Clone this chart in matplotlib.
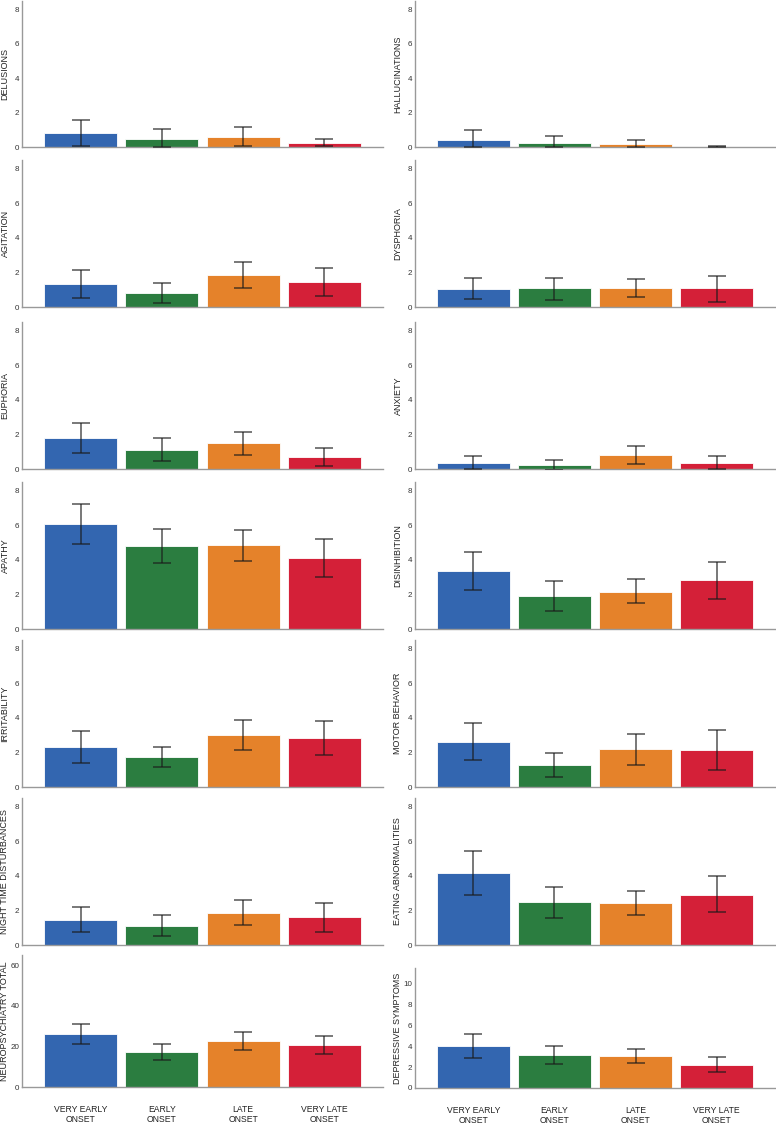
import matplotlib
matplotlib.use("Agg")
import matplotlib.pyplot as plt
import numpy as np

plt.rcParams['font.family'] = ['Liberation Sans', 'DejaVu Sans']

groups = ["VERY EARLY\nONSET", "EARLY\nONSET", "LATE\nONSET", "VERY LATE\nONSET"]
colors = ["#3366b0", "#2b7d40", "#e5822a", "#d42038"]

# (mean, upper CI, lower CI) per group
delusions_mean = [0.81, 0.47, 0.60, 0.23]
delusions_hi = [1.55, 1.05, 1.14, 0.48]
delusions_lo = [0.08, 0.0, 0.08, 0.04]

halluc_mean = [0.43, 0.23, 0.15, 0.02]
halluc_hi = [1.00, 0.66, 0.39, 0.05]
halluc_lo = [0.0, 0.0, 0.0, 0.0]

agitation_mean = [1.34, 0.81, 1.84, 1.45]
agitation_hi = [2.15, 1.40, 2.62, 2.27]
agitation_lo = [0.52, 0.21, 1.07, 0.64]

dysphoria_mean = [1.05, 1.07, 1.09, 1.07]
dysphoria_hi = [1.66, 1.70, 1.60, 1.81]
dysphoria_lo = [0.45, 0.43, 0.57, 0.31]

euphoria_mean = [1.77, 1.11, 1.48, 0.68]
euphoria_hi = [2.64, 1.79, 2.16, 1.24]
euphoria_lo = [0.91, 0.45, 0.80, 0.16]

anxiety_mean = [0.35, 0.23, 0.79, 0.35]
anxiety_hi = [0.73, 0.52, 1.31, 0.73]
anxiety_lo = [0.0, -0.04, 0.27, 0.02]

apathy_mean = [6.06, 4.78, 4.83, 4.10]
apathy_hi = [7.24, 5.77, 5.75, 5.22]
apathy_lo = [4.89, 3.81, 3.94, 2.99]

disinhib_mean = [3.34, 1.88, 2.16, 2.82]
disinhib_hi = [4.47, 2.78, 2.87, 3.90]
disinhib_lo = [2.23, 1.03, 1.50, 1.73]

irrit_mean = [2.31, 1.73, 3.01, 2.83]
irrit_hi = [3.26, 2.33, 3.90, 3.84]
irrit_lo = [1.38, 1.17, 2.16, 1.84]

motor_mean = [2.62, 1.26, 2.17, 2.12]
motor_hi = [3.71, 1.98, 3.05, 3.28]
motor_lo = [1.55, 0.56, 1.30, 1.01]

night_mean = [1.47, 1.12, 1.87, 1.60]
night_hi = [2.18, 1.76, 2.59, 2.45]
night_lo = [0.75, 0.50, 1.18, 0.73]

eating_mean = [4.16, 2.47, 2.43, 2.91]
eating_hi = [5.42, 3.34, 3.13, 3.98]
eating_lo = [2.89, 1.57, 1.75, 1.88]

npi_mean = [26.0, 17.2, 22.5, 20.5]
npi_hi = [31.0, 21.0, 27.0, 25.0]
npi_lo = [21.0, 13.5, 18.2, 16.2]

depr_mean = [4.05, 3.15, 3.05, 2.25]
depr_hi = [5.20, 4.00, 3.75, 3.00]
depr_lo = [2.90, 2.30, 2.35, 1.50]

panels = [
    ("DELUSIONS", delusions_mean, delusions_hi, delusions_lo),
    ("HALLUCINATIONS", halluc_mean, halluc_hi, halluc_lo),
    ("AGITATION", agitation_mean, agitation_hi, agitation_lo),
    ("DYSPHORIA", dysphoria_mean, dysphoria_hi, dysphoria_lo),
    ("EUPHORIA", euphoria_mean, euphoria_hi, euphoria_lo),
    ("ANXIETY", anxiety_mean, anxiety_hi, anxiety_lo),
    ("APATHY", apathy_mean, apathy_hi, apathy_lo),
    ("DISINHIBITION", disinhib_mean, disinhib_hi, disinhib_lo),
    ("IRRITABILITY", irrit_mean, irrit_hi, irrit_lo),
    ("MOTOR BEHAVIOR", motor_mean, motor_hi, motor_lo),
    ("NIGHT TIME DISTURBANCES", night_mean, night_hi, night_lo),
    ("EATING ABNORMALITIES", eating_mean, eating_hi, eating_lo),
    ("NEUROPSYCHIATRY TOTAL", npi_mean, npi_hi, npi_lo),
    ("DEPRESSIVE SYMPTOMS", depr_mean, depr_hi, depr_lo),
]

W, H = 776, 1124
fig = plt.figure(figsize=(W / 100, H / 100), dpi=100)

col_x = [(22, 383), (415, 775)]
row_tb = [(1, 147), (160, 307), (322, 469), (482, 629), (640, 787), (798, 945)]

x = np.arange(4)
for i, (name, m, hi, lo) in enumerate(panels):
    r, c = divmod(i, 2)
    x0, x1 = col_x[c]
    if r < 6:
        top, bot = row_tb[r]
        ymax = 8.5
        yt = [0, 2, 4, 6, 8]
    else:
        if c == 0:
            top, bot = 955, 1087
            ymax = 65
            yt = [0, 20, 40, 60]
        else:
            top, bot = 968, 1088
            ymax = 11.5
            yt = [0, 2, 4, 6, 8, 10]
    ax = fig.add_axes([x0 / W, 1 - bot / H, (x1 - x0) / W, (bot - top) / H])
    m = np.array(m); hi = np.array(hi); lo = np.array(lo)
    ax.bar(x, m, width=0.9, color=colors, edgecolor="white", linewidth=0.6, zorder=2)
    ax.errorbar(x, m, yerr=[m - lo, hi - m], fmt="none", ecolor="#1a1a1a",
                alpha=0.75, elinewidth=1.1, capsize=6.3, capthick=1.1, zorder=3)
    ax.set_xlim(-0.72, 3.72)
    ax.set_ylim(0, ymax)
    ax.set_yticks(yt)
    ax.tick_params(axis="y", length=0, pad=2, labelsize=5.8, labelcolor="#333333")
    for s in ["top", "right"]:
        ax.spines[s].set_visible(False)
    ax.spines["left"].set_color("#999999")
    ax.spines["bottom"].set_color("#999999")
    ax.spines["left"].set_linewidth(1.0)
    ax.spines["bottom"].set_linewidth(1.0)
    ax.set_ylabel(name, fontsize=6.5, color="#222222")
    ax.yaxis.set_label_coords(-12.5 / (x1 - x0), 0.5)
    ax.set_xticks(x)
    if r == 6:
        ax.set_xticklabels(groups, fontsize=6.2, color="#222222", linespacing=1.2)
        ax.tick_params(axis="x", length=0, pad=13)
    else:
        ax.set_xticklabels([])
        ax.tick_params(axis="x", length=0)

fig.savefig("out.png", dpi=100)
